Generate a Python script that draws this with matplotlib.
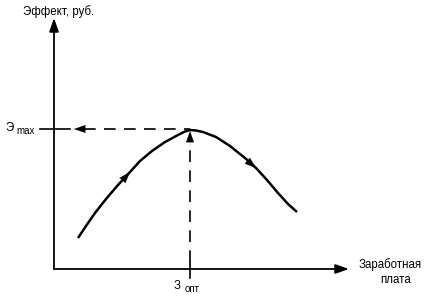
import matplotlib.pyplot as plt
from matplotlib.patches import FancyArrowPatch

plt.rcParams['font.family'] = ['Liberation Sans', 'DejaVu Sans']

# curve points (pixel coords, y down)
curve_x = [78, 86, 95, 106, 118, 130, 140, 152, 165, 178, 185, 190, 196, 203, 216, 230, 245, 256, 267, 278, 288, 297]
curve_y = [238, 226, 213, 199, 185, 172, 161, 151, 142, 135, 131.5, 130, 130.5, 132, 137, 146, 158, 168, 180, 193, 204, 212]

x_opt, y_max = 190, 129
origin = (54, 269)

fig = plt.figure(figsize=(4.29, 3.00), dpi=100)
ax = fig.add_axes([0, 0, 1, 1])
ax.set_xlim(0, 429)
ax.set_ylim(300, 0)
ax.axis('off')


def arrow(p0, p1, lw=1.3, ls='-'):
    ax.add_patch(FancyArrowPatch(p0, p1, arrowstyle='-|>,head_length=8,head_width=2.8',
                                 color='black', lw=lw, ls=ls, shrinkA=0, shrinkB=0,
                                 mutation_scale=1))


# axes
arrow(origin, (origin[0], 18))
arrow(origin, (349, origin[1]))

# curve
ax.plot(curve_x, curve_y, color='black', lw=1.8, solid_capstyle='butt')
arrow((curve_x[3], curve_y[3]), (curve_x[5], curve_y[5]), lw=0.1)
arrow((curve_x[15], curve_y[15]), (curve_x[17], curve_y[17]), lw=0.1)

# dashed guides
ax.plot([84, x_opt], [y_max, y_max], color='black', lw=1.2, dashes=(7, 5))
ax.plot([40, 70], [y_max, y_max], color='black', lw=1.2)
arrow((85, y_max), (74, y_max), lw=0.1)
ax.plot([x_opt, x_opt], [262, 140], color='black', lw=1.2, dashes=(7, 5))
ax.plot([x_opt, x_opt], [262, 278], color='black', lw=1.2)
arrow((x_opt, 146), (x_opt, 131), lw=0.1)

# labels
ax.text(23, 12, 'Эффект, руб.', fontsize=8.3, va='center', ha='left')
ax.text(5, 128, 'Э', fontsize=8.3, va='center', ha='left')
ax.text(16.5, 131, 'max', fontsize=7, va='center', ha='left')
ax.text(174, 286, 'З', fontsize=8.3, va='center', ha='left')
ax.text(185, 289, 'опт', fontsize=7, va='center', ha='left')
ax.text(359, 265, 'Заработная', fontsize=8.3, va='center', ha='left')
ax.text(396, 280, 'плата', fontsize=8.3, va='center', ha='center')

fig.savefig('out.png', dpi=100)
